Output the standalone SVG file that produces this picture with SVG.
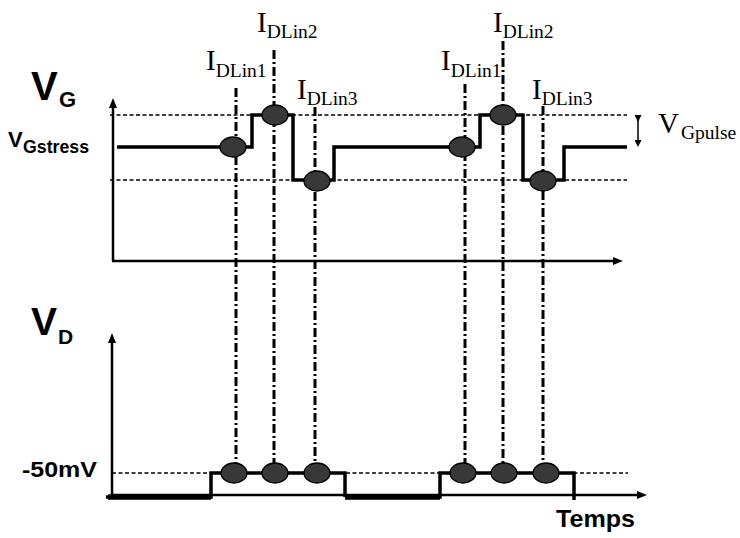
<svg xmlns="http://www.w3.org/2000/svg" width="740" height="538" viewBox="0 0 740 538">
<style>
.axis{stroke:#000;stroke-width:2.5;fill:none}
.wave{stroke:#000;stroke-width:3.5;fill:none;stroke-linejoin:miter}
.dash{stroke:#000;stroke-width:1.3;fill:none;stroke-dasharray:4 2.5}
.dd{stroke:#000;stroke-width:3;fill:none;stroke-dasharray:9 3 2 3}
.pt{fill:#383838;stroke:#000;stroke-width:1.3}
.b{font-family:"Liberation Sans",Arial,sans-serif;font-weight:bold;fill:#000}
.t{font-family:"Liberation Serif","Times New Roman",serif;fill:#000;font-size:29px}
.s{font-size:19.5px}
</style>
<defs>
<marker id="ah" viewBox="0 0 10 8" refX="4" refY="4" markerWidth="10" markerHeight="8" markerUnits="userSpaceOnUse" orient="auto"><path d="M0,0 L10,4 L0,8 z" fill="#000"/></marker>
<marker id="sa" viewBox="0 0 7 7" refX="3" refY="3.5" markerWidth="7" markerHeight="7" markerUnits="userSpaceOnUse" orient="auto"><path d="M0,0 L7,3.5 L0,7 z" fill="#000"/></marker>
</defs>
<g id="connectors">
<line class="axis" x1="113" y1="261" x2="113" y2="104" marker-end="url(#ah)"/>
<line class="axis" x1="112" y1="261" x2="617" y2="261" marker-end="url(#ah)"/>
<line class="axis" x1="112" y1="497" x2="112" y2="339" marker-end="url(#ah)"/>
<line class="axis" x1="112" y1="495" x2="641" y2="495" marker-end="url(#ah)"/>
<line class="dash" x1="110" y1="115" x2="627" y2="115"/>
<line class="dash" x1="110" y1="180" x2="627" y2="180"/>
<line class="dash" x1="112" y1="473" x2="628" y2="473"/>
<line x1="638" y1="118" x2="638" y2="143" stroke="#000" stroke-width="1.5" marker-start="url(#sa)" marker-end="url(#sa)"/>
<line class="dd" x1="236" y1="88" x2="236" y2="463"/>
<line class="dd" x1="274" y1="50" x2="274" y2="463"/>
<line class="dd" x1="315" y1="107" x2="315" y2="475"/>
<line class="dd" x1="465" y1="84" x2="465" y2="463"/>
<line class="dd" x1="503" y1="41" x2="503" y2="463"/>
<line class="dd" x1="543" y1="106" x2="543" y2="463"/>
<path class="wave" d="M117,147 H252 V115 H293 V180 H334 V147 H480 V115 H523 V180 H564 V147 H627"/>
<path class="wave" d="M106,497 H211 V473 H345 V497" stroke-width="4"/>
<path class="wave" d="M345,497 H440 V473 H574 V500" stroke-width="4"/>
<line x1="108" y1="497" x2="211" y2="497" stroke="#000" stroke-width="5.5"/>
<line x1="345" y1="497" x2="440" y2="497" stroke="#000" stroke-width="5.5"/>
</g>
<g id="points-top">
<ellipse class="pt" cx="233" cy="147" rx="13" ry="10"/>
<ellipse class="pt" cx="275" cy="115" rx="13" ry="10"/>
<ellipse class="pt" cx="317" cy="181" rx="13" ry="10"/>
<ellipse class="pt" cx="462" cy="147" rx="13" ry="10"/>
<ellipse class="pt" cx="503" cy="115" rx="13" ry="10"/>
<ellipse class="pt" cx="543" cy="181" rx="13" ry="10"/>
</g>
<g id="points-bottom">
<ellipse class="pt" cx="234" cy="473" rx="13" ry="10"/>
<ellipse class="pt" cx="275" cy="473" rx="13" ry="10"/>
<ellipse class="pt" cx="317" cy="473" rx="13" ry="10"/>
<ellipse class="pt" cx="463" cy="473" rx="13" ry="10"/>
<ellipse class="pt" cx="504" cy="473" rx="13" ry="10"/>
<ellipse class="pt" cx="546" cy="473" rx="13" ry="10"/>
</g>
<g id="label-VG"><text class="b" x="31" y="100" font-size="40">V<tspan x="59" y="107" font-size="22">G</tspan></text></g>
<g id="label-VGstress"><text class="b" x="8" y="147" font-size="22">V<tspan x="23" y="153" font-size="18" textLength="66" lengthAdjust="spacingAndGlyphs">Gstress</tspan></text></g>
<g id="label-VD"><text class="b" x="31" y="335" font-size="39">V<tspan x="58" y="344" font-size="21">D</tspan></text></g>
<g id="label-50mV"><text class="b" x="22" y="477" font-size="22" textLength="75" lengthAdjust="spacingAndGlyphs">-50mV</text></g>
<g id="label-Temps"><text class="b" x="556" y="527" font-size="24" textLength="79" lengthAdjust="spacingAndGlyphs">Temps</text></g>
<g id="label-VGpulse"><text class="t" x="658" y="133" font-size="31">V<tspan class="s" x="681" y="139" font-size="20">Gpulse</tspan></text></g>
<g id="label-I1a"><text class="t" x="206" y="70">I<tspan class="s" dy="7">DLin1</tspan></text></g>
<g id="label-I2a"><text class="t" x="257" y="32">I<tspan class="s" dy="6">DLin2</tspan></text></g>
<g id="label-I3a"><text class="t" x="297" y="99">I<tspan class="s" dy="6">DLin3</tspan></text></g>
<g id="label-I1b"><text class="t" x="441" y="70">I<tspan class="s" dy="7">DLin1</tspan></text></g>
<g id="label-I2b"><text class="t" x="493" y="32">I<tspan class="s" dy="6">DLin2</tspan></text></g>
<g id="label-I3b"><text class="t" x="532" y="99">I<tspan class="s" dy="6">DLin3</tspan></text></g>
</svg>
